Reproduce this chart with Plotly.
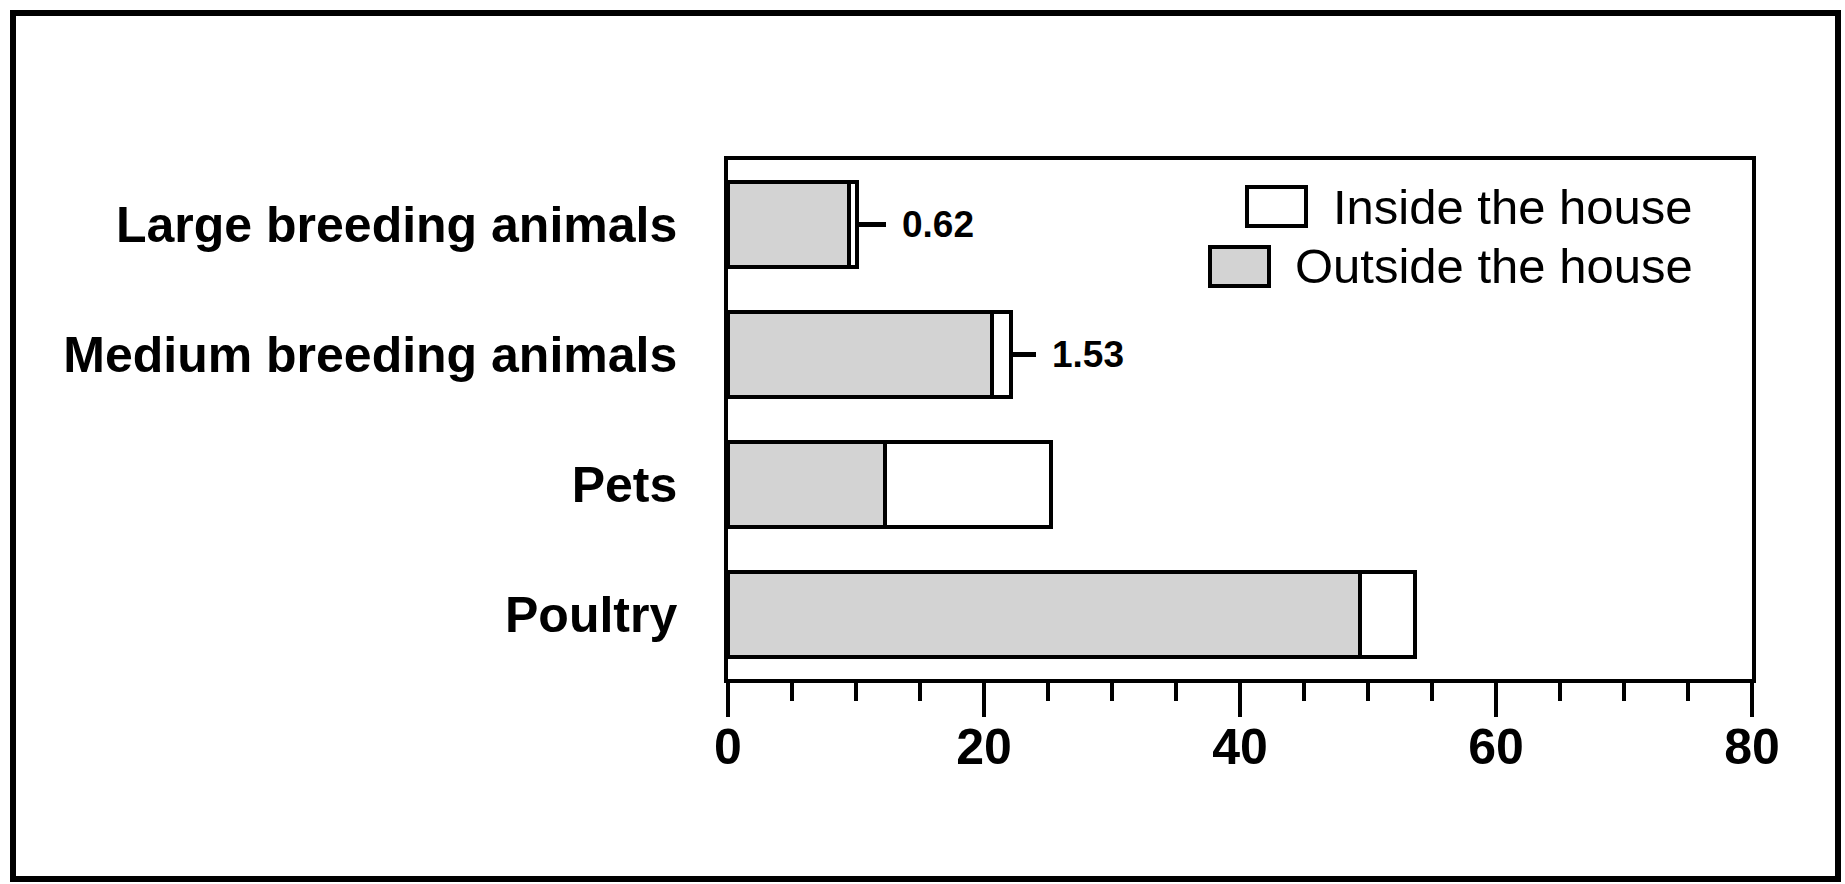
import plotly.graph_objects as go

W, H = 1845, 884
ML, MR, MT, MB = 728, 93, 160, 205

categories = ["Large breeding animals", "Medium breeding animals", "Pets", "Poultry"]
outside = [9.46, 20.6, 12.3, 49.4]
inside = [0.62, 1.53, 12.9, 4.3]
leader = [2.3, 1.9, None, None]
labelled = [True, True, False, False]
x_ticks = [0, 20, 40, 60, 80]

FONT = "Liberation Sans, Arial, sans-serif"

fig = go.Figure()
fig.add_trace(go.Bar(
    y=categories, x=outside, orientation="h", name="Outside the house",
    marker=dict(color="#d3d3d3", line=dict(color="black", width=4)),
    showlegend=False,
))
fig.add_trace(go.Bar(
    y=categories, x=inside, orientation="h", name="Inside the house",
    marker=dict(color="white", line=dict(color="black", width=4)),
    error_x=dict(type="data", symmetric=False, array=leader,
                 arrayminus=[0] * len(leader), color="black", thickness=5, width=0),
    showlegend=False,
))

annotations = []
for c, o, i, e, show in zip(categories, outside, inside, leader, labelled):
    if show:
        annotations.append(dict(
            x=o + i + e, y=c, xref="x", yref="y", text=f"{i:.2f}",
            showarrow=False, xanchor="left", yanchor="middle", xshift=14,
            font=dict(family=FONT, size=37, color="black", weight="bold"),
        ))

pw = W - ML - MR
ph = H - MT - MB

def px(xp):
    return (xp - ML) / pw

def py(yp):
    return (H - MB - yp) / ph

# manual legend (right-aligned text)
legend_items = [("Inside the house", "white", 1247, 1306, 187, 226, 207),
                ("Outside the house", "#d3d3d3", 1210, 1269, 247, 286, 266)]
shapes = []
for name, col, x0, x1, y0, y1, yc in legend_items:
    shapes.append(dict(type="rect", xref="paper", yref="paper",
                       x0=px(x0), x1=px(x1), y0=py(y1), y1=py(y0),
                       line=dict(color="black", width=4), fillcolor=col))
    annotations.append(dict(x=px(1695), y=py(yc), xref="paper", yref="paper",
                            text=name, showarrow=False, xanchor="right", yanchor="middle",
                            font=dict(family=FONT, size=49, color="black")))

# outer frame
shapes.append(dict(type="rect", xref="paper", yref="paper",
                   x0=px(13), x1=px(1838), y0=py(879), y1=py(13),
                   line=dict(color="black", width=6), fillcolor="rgba(0,0,0,0)", layer="below"))

fig.update_layout(
    width=W, height=H,
    margin=dict(l=ML, r=MR, t=MT, b=MB),
    barmode="stack", bargap=0.345,
    paper_bgcolor="white", plot_bgcolor="white",
    showlegend=False,
    shapes=shapes, annotations=annotations,
    font=dict(family=FONT, color="black"),
)
fig.update_xaxes(
    range=[0, 80], tickvals=x_ticks, ticktext=[str(t) for t in x_ticks],
    showgrid=False, zeroline=False,
    showline=True, linecolor="black", linewidth=3.5, mirror=True,
    ticks="outside", ticklen=34, tickwidth=3.5, tickcolor="black",
    minor=dict(dtick=5, ticks="outside", ticklen=18, tickwidth=3.5, tickcolor="black", showgrid=False),
    tickfont=dict(family=FONT, size=50, color="black", weight="bold"),
    ticklabelstandoff=-13,
)
fig.update_yaxes(
    categoryorder="array", categoryarray=categories, range=[3.5, -0.5],
    showgrid=False, zeroline=False,
    showline=True, linecolor="black", linewidth=3.5, mirror=True,
    ticks="", ticklabelstandoff=37,
    tickfont=dict(family=FONT, size=50, color="black", weight="bold"),
)

fig.write_html("out.html", config={"displayModeBar": False},
               post_script="document.body.style.margin='0';document.body.style.overflow='hidden';")
